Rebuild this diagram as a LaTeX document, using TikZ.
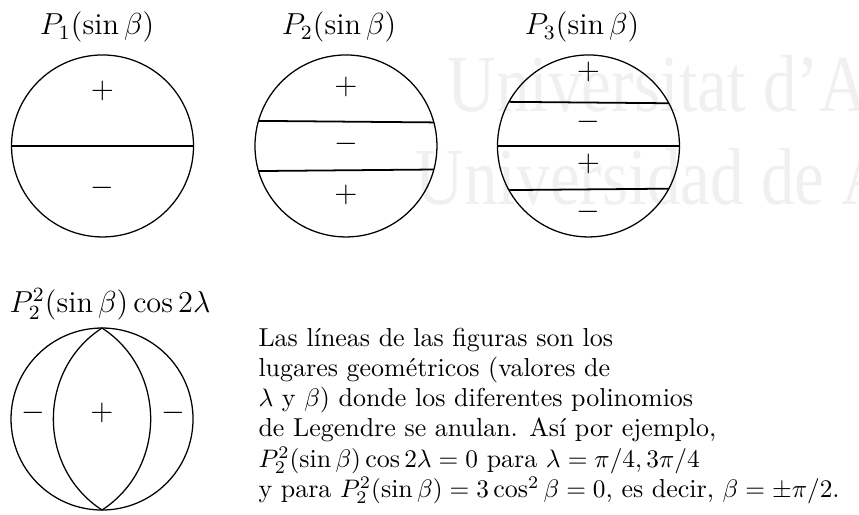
\documentclass[tikz,border=0pt]{standalone}
\usepackage{amsmath}
\usepackage{fontspec}
\newfontfamily\wmfont{Liberation Serif}
\usetikzlibrary{positioning}

\begin{document}
\begin{tikzpicture}[font=\large,
  globe/.style={circle, draw, line width=0.5pt, minimum size=2.526cm, inner sep=0pt, outer sep=0pt},
  nodal/.style={line width=0.7pt},
  sgn/.style={inner sep=0pt},
  capline/.style={anchor=base west, inner sep=0pt, font=\fontsize{10.25}{12.3}\selectfont},
  wmark/.style={anchor=base west, inner sep=0pt, text=black!6, font=\wmfont\fontsize{32}{36}\selectfont}]
\useasboundingbox (0,0) rectangle (11.923,7.148);
% watermark
\node[wmark] (wm1) at (6.204,5.594) {\scalebox{0.83}[1]{Universitat d’A}};
\node[wmark] (wm2) at (5.760,4.303) {\scalebox{0.83}[1]{Universidad de A}};
% spheres
\node[globe] (p1) at (1.423,5.122) {};
\node[globe] (p2) at (4.802,5.122) {};
\node[globe] (p3) at (8.168,5.122) {};
\node[globe] (p4) at (1.416,1.332) {};
\node (l1) at (1.346,6.773) {$P_1(\sin\beta)$};
\node (l2) at (4.705,6.773) {$P_2(\sin\beta)$};
\node (l3) at (8.078,6.773) {$P_3(\sin\beta)$};
\node (l4) at (1.527,2.930) {$P_2^2(\sin\beta)\cos2\lambda$};
% nodal lines
\draw[nodal] (p1.0) -- (p1.180);
\draw[nodal] (p2.15.6) -- (p2.164.4);
\draw[nodal] (p2.-15.6) -- (p2.-164.4);
\draw[nodal] (p3.28.2) -- (p3.151.8);
\draw[nodal] (p3.0) -- (p3.180);
\draw[nodal] (p3.-28.2) -- (p3.-151.8);
\draw[line width=0.5pt] (p4.north) to[bend right=57, looseness=1.09] (p4.south);
\draw[line width=0.5pt] (p4.north) to[bend left=57, looseness=1.09] (p4.south);
% signs
\node[sgn] (s11) at (1.423,5.885) {$+$};
\node[sgn] (s12) at (1.423,4.539) {$-$};
\node[sgn] (s21) at (4.802,5.941) {$+$};
\node[sgn] (s22) at (4.802,5.150) {$-$};
\node[sgn] (s23) at (4.802,4.442) {$+$};
\node[sgn] (s31) at (8.168,6.149) {$+$};
\node[sgn] (s32) at (8.168,5.455) {$-$};
\node[sgn] (s33) at (8.168,4.872) {$+$};
\node[sgn] (s34) at (8.168,4.206) {$-$};
\node[sgn] (s41) at (0.458,1.415) {$-$};
\node[sgn] (s42) at (1.416,1.415) {$+$};
\node[sgn] (s43) at (2.401,1.415) {$-$};
% caption text, one node per line
\node[capline] (t1) at (3.581,2.344) {Las líneas de las figuras son los};
\node[capline] (t2) at (3.581,1.924) {lugares geométricos (valores de};
\node[capline] (t3) at (3.581,1.503) {$\lambda$ y $\beta$) donde los diferentes polinomios};
\node[capline] (t4) at (3.581,1.083) {de Legendre se anulan. Así por ejemplo,};
\node[capline] (t5) at (3.581,0.662) {$P_2^2(\sin\beta)\cos2\lambda=0$ para $\lambda=\pi/4,3\pi/4$};
\node[capline] (t6) at (3.581,0.242) {y para $P_2^2(\sin\beta)=3\cos^2\beta=0$, es decir, $\beta=\pm\pi/2$.};
\end{tikzpicture}
\end{document}
